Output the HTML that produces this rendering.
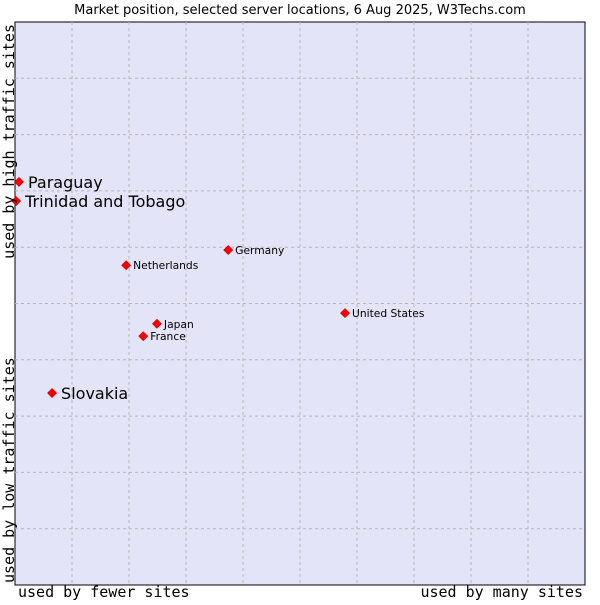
<!DOCTYPE html>
<html><head><meta charset="utf-8"><style>
body{margin:0;background:#fff;width:600px;height:600px;overflow:hidden}
svg text{font-family:"DejaVu Sans","Liberation Sans",sans-serif}
.mono{font-family:"DejaVu Sans Mono","Liberation Mono",monospace}
</style></head><body>
<svg id="chart" width="600" height="600" xmlns="http://www.w3.org/2000/svg">
<text x="300" y="14" text-anchor="middle" font-size="13">Market position, selected server locations, 6 Aug 2025, W3Techs.com</text>
<rect x="15" y="22" width="570" height="563" fill="#e3e4f8" stroke="#000" stroke-width="1"/>
<g id="grid"></g>
<g id="points"></g>
<text class="mono" x="18" y="597" font-size="15">used by fewer sites</text>
<text class="mono" x="583" y="597" font-size="15" text-anchor="end">used by many sites</text>
<text class="mono" transform="translate(14,24) rotate(-90)" font-size="15" text-anchor="end">used by high traffic sites</text>
<text class="mono" transform="translate(14,583) rotate(-90)" font-size="15">used by low traffic sites</text>
</svg>
<script>
const names=["Paraguay","Trinidad and Tobago","Germany","Netherlands","United States","Japan","France","Slovakia"];
const xValues=[0.7,0.2,37.4,19.5,57.9,24.9,22.5,6.5];
const yValues=[71.6,68.2,59.5,56.8,48.3,46.4,44.2,34.1];
const highlighted=[true,true,false,false,false,false,false,true];
const L=15,T=22,W=570,H=563;
const sx=v=>L+v/100*W, sy=v=>T+H-v/100*H;
const ns="http://www.w3.org/2000/svg";
const grid=document.getElementById('grid');
for(let i=1;i<10;i++){
 const v=document.createElementNS(ns,'line');
 
 
 v.setAttribute('x1',sx(i*10));v.setAttribute('x2',sx(i*10));v.setAttribute('y1',T);v.setAttribute('y2',T+H);
 v.setAttribute('stroke','#b8b8b8');v.setAttribute('stroke-dasharray','3,3');grid.appendChild(v);
 const h=document.createElementNS(ns,'line');
 
 
 h.setAttribute('y1',sy(i*10));h.setAttribute('y2',sy(i*10));h.setAttribute('x1',L);h.setAttribute('x2',L+W);
 h.setAttribute('stroke','#b8b8b8');h.setAttribute('stroke-dasharray','3,3');grid.appendChild(h);
}
const pts=document.getElementById('points');
names.forEach((n,i)=>{
 const x=sx(xValues[i]),y=sy(yValues[i]);
 const d=document.createElementNS(ns,'path');
 
 
 d.setAttribute('d',`M${x} ${y-4.5}L${x+4.5} ${y}L${x} ${y+4.5}L${x-4.5} ${y}Z`);
 d.setAttribute('fill','#f00');d.setAttribute('stroke','#c00');d.setAttribute('stroke-width','0.6');pts.appendChild(d);
 const t=document.createElementNS(ns,'text');
 
 
 const big=highlighted[i];
 t.setAttribute('x',x+(big?9:7));t.setAttribute('y',y+(big?6:4));
 t.setAttribute('font-size',big?16:10.7);
 t.textContent=n;pts.appendChild(t);
});
</script>
</body></html>
